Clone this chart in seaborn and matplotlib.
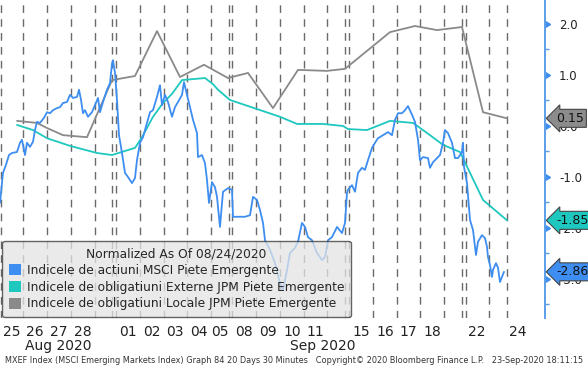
import matplotlib
matplotlib.use("Agg")
import matplotlib.pyplot as plt
import pandas as pd
import seaborn as sns
from matplotlib.patches import Patch
from matplotlib.markers import CARETRIGHTBASE

# trading-time index (30 min bars squeezed, weekends removed) and normalized values
msci_t = [0, 3, 6, 9, 12, 17, 20, 22, 25, 27, 30, 33, 35, 37, 40, 44, 47, 50, 53, 57,
          60, 63, 67, 70, 73, 77, 79, 81, 83, 85, 88, 92, 95, 98, 100, 103, 107, 110, 112, 113,
          115, 117, 119, 122, 125, 128, 132, 135, 137, 140, 143, 147, 150, 153, 157, 160, 162, 165, 168, 172,
          175, 178, 182, 184, 187, 190, 193, 197, 198, 202, 205, 207, 209, 212, 215, 217, 220, 223, 228, 232,
          233, 238, 245, 250, 253, 257, 260, 263, 265, 270, 275, 280, 283, 287, 290, 295, 298, 302, 305, 308,
          312, 317, 322, 325, 328, 332, 337, 342, 345, 347, 348, 352, 355, 358, 362, 365, 368, 372, 375, 378,
          383, 388, 392, 395, 398, 402, 405, 408, 412, 415, 418, 420, 423, 428, 430, 433, 437, 440, 443, 445,
          448, 452, 455, 458, 462, 463, 464, 467, 470, 473, 476, 478, 482, 485, 487, 488, 490, 492, 493, 496,
          498, 500, 502, 504]
msci_v = [-1.51, -0.92, -0.76, -0.57, -0.53, -0.51, -0.33, -0.27, -0.57, -0.33,
          -0.41, -0.31, -0.08, 0.08, 0.06, 0.16, 0.27, 0.25, 0.31, 0.35,
          0.37, 0.45, 0.47, 0.61, 0.55, 0.57, 0.71, 0.51, 0.25, 0.31,
          0.18, 0.27, 0.41, 0.55, 0.27, 0.47, 0.71, 0.84, 1.22, 1.29,
          1.04, 0.51, -0.18, -0.53, -0.92, -1.00, -1.12, -1.02, -0.67, -0.33,
          -0.22, 0.06, 0.27, 0.31, 0.57, 0.80, 0.41, 0.61, 0.47, 0.18,
          0.37, 0.47, 0.61, 0.86, 0.61, 0.37, 0.12, -0.14, -0.61, -0.57,
          -0.73, -1.06, -1.51, -1.10, -1.20, -1.39, -1.98, -1.29, -1.22, -1.25,
          -1.78, -1.78, -1.78, -1.75, -1.39, -1.45, -1.65, -1.90, -2.24, -2.43,
          -2.69, -3.08, -3.22, -2.82, -2.49, -2.39, -2.27, -1.90, -1.98, -2.18,
          -2.24, -2.49, -2.63, -2.57, -2.24, -2.18, -1.98, -2.10, -1.90, -1.31,
          -1.25, -1.16, -1.29, -0.92, -0.82, -0.86, -0.67, -0.43, -0.33, -0.24,
          -0.18, -0.12, -0.18, 0.12, 0.25, 0.25, 0.31, 0.39, 0.22, 0.08,
          -0.27, -0.67, -0.61, -0.63, -0.82, -0.71, -0.63, -0.57, -0.33, -0.08,
          -0.14, -0.33, -0.63, -0.63, -0.51, -0.33, -0.80, -1.12, -1.84, -2.04,
          -2.53, -2.27, -2.14, -2.20, -2.37, -2.57, -2.73, -2.96, -2.82, -2.69,
          -2.78, -3.06, -2.96, -2.86]

ext_t = [17, 33, 47, 70, 97, 112, 125, 135, 142, 153, 163, 172, 182, 205, 213, 218,
         230, 280, 297, 323, 343, 348, 367, 390, 413, 430, 443, 460, 483, 507]
ext_v = [0.02, -0.08, -0.24, -0.39, -0.53, -0.57, -0.49, -0.43, -0.22, 0.18, 0.45, 0.63,
         0.90, 0.94, 0.82, 0.71, 0.51, 0.18, 0.04, 0.04, 0.00, -0.06, -0.08, 0.10,
         0.06, -0.18, -0.37, -0.51, -1.45, -1.85]

loc_t = [17, 37, 47, 63, 87, 112, 118, 135, 157, 180, 204, 228, 248, 273, 298, 327,
         345, 390, 415, 437, 462, 483, 507]
loc_v = [0.10, 0.06, -0.04, -0.18, -0.22, 0.90, 0.92, 0.98, 1.86, 0.96, 1.20, 0.94,
         1.04, 0.35, 1.10, 1.08, 1.12, 1.84, 1.96, 1.88, 1.94, 0.27, 0.15]

session_breaks = [1, 23, 47, 71, 95, 112, 116, 140, 164, 187, 211, 229, 232, 256, 280,
                  304, 327, 345, 349, 373, 397, 420, 444, 462, 466, 489, 507]
day_pos = [12, 35, 59, 83, 128, 152, 175, 199, 220, 244, 268, 292, 315, 361, 385, 408,
           432, 477, 518]
day_labels = ["25", "26", "27", "28", "01", "02", "03", "04", "05", "08", "09", "10",
              "11", "15", "16", "17", "18", "22", "24"]

names = ["Indicele de actiuni MSCI Piete Emergente",
         "Indicele de obligatiuni Externe JPM Piete Emergente",
         "Indicele de obligatiuni Locale JPM Piete Emergente"]
colors = ["#3d8ef0", "#1ec8bf", "#8a8a8a"]

sns.set_theme(style="white")
plt.rcParams["font.family"] = ["DejaVu Sans"]

fig = plt.figure(figsize=(5.88, 3.69), dpi=100)
ax = fig.add_axes([0, 1 - 318 / 369, 545 / 588, 318 / 369])

for b in session_breaks:
    ax.axvline(b, color="#6a6a6a", lw=1.0, ls=(0, (5.5, 4.5)), zorder=1)

sns.lineplot(x=loc_t, y=loc_v, color=colors[2], lw=1.3, ax=ax, zorder=3)
sns.lineplot(x=ext_t, y=ext_v, color=colors[1], lw=1.3, ax=ax, zorder=4)
sns.lineplot(x=msci_t, y=msci_v, color=colors[0], lw=1.3, ax=ax, zorder=5)

ax.set_xlim(0, 545)
ax.set_ylim(-3.765, 2.47)

for s in ["left", "top", "bottom"]:
    ax.spines[s].set_visible(False)
ax.spines["right"].set_color("#5b9fe8")
ax.spines["right"].set_linewidth(1.4)

ax.yaxis.tick_right()
ax.set_yticks([2, 1, 0, -1, -2, -3], ["2.0", "1.0", "0.0", "-1.0", "-2.0", "-3.0"])
ax.set_yticks([1.5, 0.5, -0.5, -1.5, -2.5, -3.5], minor=True)
ax.tick_params(axis="y", which="major", length=6, width=1, color="#3d8ef0",
               pad=4, labelsize=8.5, labelcolor="#222222", right=True)
ax.tick_params(axis="y", which="minor", length=3, width=1, color="#5b9fe8", right=True)
for t in ax.yaxis.get_major_ticks():
    t.tick2line.set_marker(CARETRIGHTBASE)
    t.tick2line.set_markersize(5)

ax.set_xticks(day_pos, day_labels)
ax.tick_params(axis="x", length=0, pad=5, labelsize=10, labelcolor="#222222")
ax.set_xlabel("")
ax.set_ylabel("")

xt = ax.get_xaxis_transform()
ax.text(58, -0.088, "Aug 2020", transform=xt, ha="center", va="center", fontsize=10, color="#222222")
ax.text(323, -0.088, "Sep 2020", transform=xt, ha="center", va="center", fontsize=10, color="#222222")

handles = [Patch(facecolor=c, edgecolor="none") for c in colors]
leg = ax.legend(handles, names, title="Normalized As Of 08/24/2020", loc="lower left",
                bbox_to_anchor=(0.004, 0.003), borderaxespad=0, fontsize=8.8,
                title_fontsize=8.8, handlelength=1.0, handleheight=1.0, handletextpad=0.45,
                labelspacing=0.3, borderpad=0.55, fancybox=True, framealpha=0.75,
                facecolor="#e4e4e4", edgecolor="#333333")
leg.set_zorder(10)

yt = ax.get_yaxis_transform()
tags = [(loc_v[-1], "0.15", "#8c8c8c"), (ext_v[-1], "-1.85", "#1ec8bf"), (msci_v[-1], "-2.86", "#3d8ef0")]
for val, txt, c in tags:
    ax.annotate(txt, xy=(1, val), xycoords=yt, xytext=(11, 0), textcoords="offset pixels",
                ha="left", va="center", fontsize=9, color="#111111", annotation_clip=False,
                bbox=dict(boxstyle="larrow,pad=0.2", fc=c, ec="#444444", lw=0.8), zorder=20)

fig.text(0.008, 0.022, "MXEF Index (MSCI Emerging Markets Index) Graph 84 20 Days 30 Minutes   "
         "Copyright\u00a9 2020 Bloomberg Finance L.P.   23-Sep-2020 18:11:15",
         fontsize=5.9, color="#333333", va="center", ha="left")

fig.savefig("out.png", dpi=100, facecolor="white")
